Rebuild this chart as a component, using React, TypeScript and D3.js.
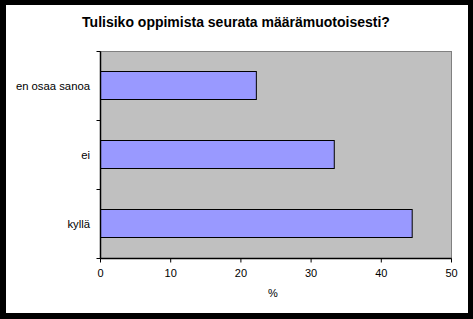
import React from "react";
import * as d3 from "d3";

const categories = ["en osaa sanoa", "ei", "kyllä"];
const values = [22.2, 33.3, 44.4];
const xTicks = [0, 10, 20, 30, 40, 50];
const title = "Tulisiko oppimista seurata määrämuotoisesti?";
const xLabel = "%";

export default function App() {
  const W = 473, H = 319;
  const left = 100.5, right = 451.5, top = 51.5, bottom = 258.5;
  const x = d3.scaleLinear().domain([0, 50]).range([left, right]);
  const y = d3.scaleBand().domain(categories).range([top, bottom]).paddingInner(0.6).paddingOuter(0.3);
  const band = (bottom - top) / categories.length;
  const font = "Arial, 'Liberation Sans', sans-serif";
  return (
    <svg width={W} height={H} style={{ position: "absolute", left: 0, top: 0 }}>
      <rect x={0} y={0} width={W} height={H} fill="#000" />
      <rect x={6} y={5} width={462} height={308} fill="#fff" />
      <text x={236} y={27} textAnchor="middle" fontFamily={font} fontWeight="bold" fontSize={14}>{title}</text>
      <rect x={left} y={top} width={right - left} height={bottom - top} fill="#c0c0c0" stroke="#808080" strokeWidth={1} />
      {categories.map((c, i) => (
        <rect key={c} x={x(0)} y={Math.floor(y(c)!) - 0.5} width={x(values[i]) - x(0)} height={28}
          fill="#9999ff" stroke="#000" strokeWidth={1} />
      ))}
      <line x1={left} x2={left} y1={top} y2={bottom} stroke="#000" strokeWidth={1.5} />
      <line x1={left} x2={right} y1={bottom} y2={bottom} stroke="#000" strokeWidth={1.5} />
      {d3.range(categories.length + 1).map(i => (
        <line key={i} x1={left - 4} x2={left} y1={top + i * band} y2={top + i * band} stroke="#000" />
      ))}
      {xTicks.map(t => (
        <g key={t}>
          <line x1={x(t)} x2={x(t)} y1={bottom} y2={bottom + 4} stroke="#000" />
          <text x={x(t)} y={277} textAnchor="middle" fontFamily={font} fontSize={11}>{t}</text>
        </g>
      ))}
      {categories.map(c => (
        <text key={c} x={90} y={y(c)! + y.bandwidth() / 2 + 3.5} textAnchor="end" fontFamily={font} fontSize={11.3}>{c}</text>
      ))}
      <text x={273} y={297} textAnchor="middle" fontFamily={font} fontSize={11}>{xLabel}</text>
    </svg>
  );
}
